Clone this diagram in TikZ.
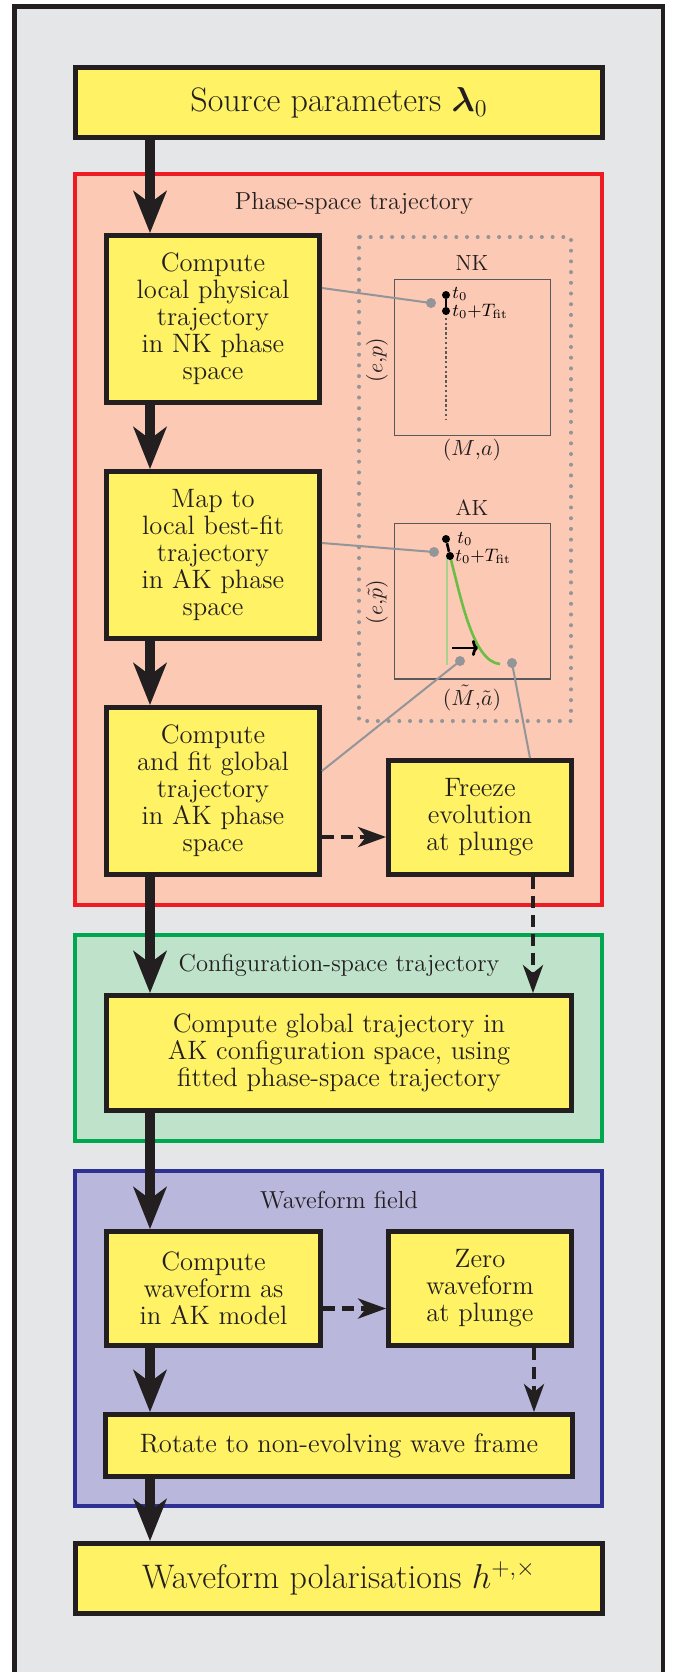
\documentclass[tikz,border=0pt]{standalone}
\usepackage{amsmath}
\usetikzlibrary{arrows.meta}

\definecolor{frameline}{HTML}{231F20}
\definecolor{outergray}{HTML}{E5E6E8}
\definecolor{boxyellow}{HTML}{FFF264}
\definecolor{phasefill}{HTML}{FBC9B4}
\definecolor{phaseline}{HTML}{ED1C24}
\definecolor{configfill}{HTML}{BFE3CA}
\definecolor{configline}{HTML}{00A650}
\definecolor{wavefill}{HTML}{B9B7DB}
\definecolor{waveline}{HTML}{2E3192}
\definecolor{dotgray}{HTML}{939598}
\definecolor{plotgray}{HTML}{58595B}
\definecolor{fitgreen}{HTML}{6ABD45}
\definecolor{palegreen}{HTML}{A9D18E}

\tikzset{
	stepbox/.style={draw=frameline, line width=2.4pt, fill=boxyellow, align=center, inner sep=0pt, text=frameline, font=\fontsize{13.3}{13.5}\selectfont},
	bigbox/.style={stepbox, minimum width=263.5pt, minimum height=35pt, font=\fontsize{17}{20}\selectfont},
	region/.style={line width=2.2pt},
	regionlabel/.style={text=frameline, font=\fontsize{12.3}{14}\selectfont},
	plotlabel/.style={text=frameline, font=\fontsize{11}{13}\selectfont},
	tlabel/.style={text=black, anchor=west, inner sep=0pt, font=\fontsize{8.8}{10}\selectfont},
	flow/.style={draw=frameline, line width=5pt, -{Stealth[length=21pt,width=16.5pt,inset=6pt]}},
	dashflow/.style={draw=frameline, line width=2.2pt, dash pattern=on 6pt off 3.5pt, -{Stealth[length=14pt,width=10pt,inset=4pt]}},
	link/.style={draw=dotgray, line width=1pt},
	linkdot/.style={circle, fill=dotgray, inner sep=0pt, minimum size=5pt},
	tdot/.style={circle, fill=black, inner sep=0pt, minimum size=4pt}
}

\begin{document}
\begin{tikzpicture}[x=0.5pt, y=-0.5pt]
	\useasboundingbox (0,0) rectangle (675,1672);
	\fill[white] (0,0) rectangle (675,1672);
	%FRAME
	\draw[line width=2.2pt, draw=frameline, fill=outergray] (14.5,6.5) rectangle (663,1700);
	%REGIONS
	\draw[region, draw=phaseline, fill=phasefill] (75,174) rectangle (602,905);
	\draw[region, draw=configline, fill=configfill] (75,935) rectangle (602,1141);
	\draw[region, draw=waveline, fill=wavefill] (75,1171) rectangle (602,1506);
	\node[regionlabel] (phaselabel) at (354,203) {Phase-space trajectory};
	\node[regionlabel] (configlabel) at (339,965) {Configuration-space trajectory};
	\node[regionlabel] (wavelabel) at (339,1200) {Waveform field};
	%DOTTED FRAME
	\draw[dotgray, line width=2pt, line cap=round, dash pattern=on 0pt off 5.35pt] (359,237) rectangle (571,721);
	%NK PLOT
	\draw[plotgray, line width=0.6pt] (394.5,279.5) rectangle (550.5,435.5);
	\node[plotlabel] (nklabel) at (472,263) {NK};
	\node[plotlabel] (nkx) at (472,450) {$(M{,}a)$};
	\node[plotlabel, rotate=90] (nky) at (377,360) {$(e{,}p)$};
	\draw[plotgray, line width=1.3pt, dash pattern=on 1.2pt off 1.2pt] (446,313) -- (446,419);
	\node[tdot] (nkt0) at (446,295) {};
	\node[tdot] (nkt1) at (446,311) {};
	\draw[black, line width=1.3pt] (nkt0) -- (nkt1);
	\node[tlabel] at (452,294) {$t_0$};
	\node[tlabel] at (452,311) {$t_0{+}T_{\mathrm{fit}}$};
	\node[linkdot] (nkdot) at (431,303) {};
	%AK PLOT
	\draw[plotgray, line width=0.6pt] (394.5,523.5) rectangle (550.5,679);
	\node[plotlabel] (aklabel) at (472,508) {AK};
	\node[plotlabel] (akx) at (472,698) {$(\tilde{M}{,}\tilde{a})$};
	\node[plotlabel, rotate=90] (aky) at (377,602) {$(e{,}\tilde{p})$};
	\draw[palegreen, line width=1.3pt] (447,558) -- (447,665);
	\draw[fitgreen, line width=1.3pt] (450,556) .. controls (461,598) and (473,662) .. (500,664);
	\node[tdot] (akt0) at (446,539) {};
	\node[tdot] (akt1) at (450,556) {};
	\draw[black, line width=1.3pt] (akt0) -- (akt1);
	\node[tlabel] at (457,539) {$t_0$};
	\node[tlabel] at (455,556) {$t_0{+}T_{\mathrm{fit}}$};
	\draw[black, line width=1.4pt, -{To[length=3pt,width=8pt]}] (452,648) -- (478,648);
	\node[linkdot] (akdot) at (434,552) {};
	\node[linkdot] (plungedot) at (460,661) {};
	\node[linkdot] (enddot) at (512,663) {};
	%BOXES
	\node[bigbox] (src) at (339,102.5) {Source parameters $\boldsymbol{\lambda}_0$};
	\node[stepbox, minimum width=106.5pt, minimum height=83.5pt] (box1) at (213,319) {Compute\\local physical\\trajectory\\in NK phase\\space};
	\node[stepbox, minimum width=106.5pt, minimum height=83.5pt] (box2) at (213,555) {Map to\\local best-fit\\trajectory\\in AK phase\\space};
	\node[stepbox, minimum width=106.5pt, minimum height=83.5pt] (box3) at (213,791) {Compute\\and fit global\\trajectory\\in AK phase\\space};
	\node[stepbox, minimum width=91.5pt, minimum height=57pt] (freeze) at (480,817.5) {Freeze\\evolution\\at plunge};
	\node[stepbox, minimum width=232.5pt, minimum height=57.5pt] (conf) at (339,1053) {Compute global trajectory in\\AK configuration space, using\\fitted phase-space trajectory};
	\node[stepbox, minimum width=107pt, minimum height=57pt] (wave) at (213.5,1288.5) {Compute\\waveform as\\in AK model};
	\node[stepbox, minimum width=91.5pt, minimum height=57pt] (zero) at (480,1288.5) {Zero\\waveform\\at plunge};
	\node[stepbox, minimum width=233.5pt, minimum height=31pt] (rot) at (339,1445.5) {Rotate to non-evolving wave frame};
	\node[bigbox] (pol) at (339,1578.5) {Waveform polarisations $h^{+,\times}$};
	%LINKS
	\draw[link] ([yshift=15.5pt]box1.east) -- (nkdot.center);
	\draw[link] ([yshift=6pt]box2.east) -- (akdot.center);
	\draw[link] ([yshift=10pt]box3.east) -- (plungedot.center);
	\draw[link] ([xshift=25pt]freeze.north) -- (enddot.center);
	%FLOW
	\coordinate (spine) at (150,0);
	\draw[flow] (src.south -| spine) -- (box1.north -| spine);
	\draw[flow] (box1.south -| spine) -- (box2.north -| spine);
	\draw[flow] (box2.south -| spine) -- (box3.north -| spine);
	\draw[flow] (box3.south -| spine) -- (conf.north -| spine);
	\draw[flow] (conf.south -| spine) -- (wave.north -| spine);
	\draw[flow] (wave.south -| spine) -- (rot.north -| spine);
	\draw[flow] (rot.south -| spine) -- (pol.north -| spine);
	\draw[dashflow] ([yshift=-23pt]box3.east) coordinate (d1) -- (d1 -| freeze.west);
	\draw[dashflow] ([xshift=26.5pt]freeze.south) coordinate (d2) -- (d2 |- conf.north);
	\draw[dashflow] ([yshift=-10pt]wave.east) coordinate (d3) -- (d3 -| zero.west);
	\draw[dashflow] ([xshift=27pt]zero.south) coordinate (d4) -- (d4 |- rot.north);
\end{tikzpicture}
\end{document}
